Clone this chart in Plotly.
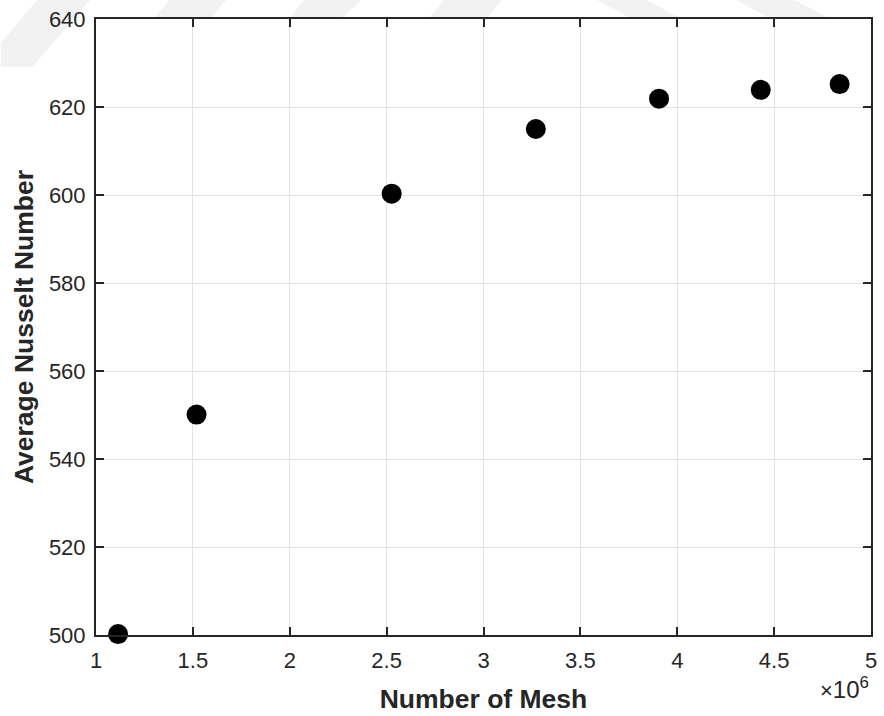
import plotly.graph_objects as go

# Mesh independence study: average Nusselt number vs. mesh size
mesh_counts = [1.114e6, 1.519e6, 2.526e6, 3.270e6, 3.906e6, 4.431e6, 4.838e6]
avg_nusselt = [500.2, 550.1, 600.3, 615.0, 621.9, 623.9, 625.2]

x_tick_values = [1.0e6, 1.5e6, 2.0e6, 2.5e6, 3.0e6, 3.5e6, 4.0e6, 4.5e6, 5.0e6]
x_tick_labels = ["1", "1.5", "2", "2.5", "3", "3.5", "4", "4.5", "5"]
y_tick_values = [500, 520, 540, 560, 580, 600, 620, 640]

W, H = 884, 716
M_L, M_R, M_T, M_B = 96, 7, 19, 79
PW, PH = W - M_L - M_R, H - M_T - M_B

INK = "#262626"
GRID = "#e3e3e3"
FONT = "Liberation Sans, Arial, Helvetica, sans-serif"


def to_paper(px, py):
    return (px - M_L) / PW, (H - M_B - py) / PH


# faint diagonal watermark bands in the page margins (pixel outlines)
bands = [
    [(37, 0), (90, 0), (32, 67), (0, 67), (0, 43)],
    [(170, 0), (227, 0), (211, 19), (154, 19)],
    [(306, 0), (363, 0), (343, 19), (290, 19)],
    [(447, 0), (505, 0), (489, 19), (431, 19)],
    [(601, 0), (651, 0), (686, 19), (636, 19)],
    [(741, 0), (801, 0), (836, 19), (776, 19)],
]

shapes = []
for poly in bands:
    pts = [to_paper(px, py) for px, py in poly]
    path = "M " + " L ".join(f"{x:.5f},{y:.5f}" for x, y in pts) + " Z"
    shapes.append(dict(type="path", xref="paper", yref="paper", path=path,
                       fillcolor="#f2f2f2", line=dict(width=0), layer="below"))

fig = go.Figure()
fig.add_trace(go.Scatter(
    x=mesh_counts, y=avg_nusselt, mode="markers",
    marker=dict(symbol="circle", size=20, color="black",
                line=dict(width=0)),
    cliponaxis=False, showlegend=False,
))

axis_common = dict(
    showline=True, linecolor=INK, linewidth=2, mirror="allticks",
    ticks="inside", ticklen=8, tickwidth=2, tickcolor=INK,
    showgrid=True, gridcolor=GRID, gridwidth=1, zeroline=False,
    tickfont=dict(family=FONT, size=22, color=INK),
)

fig.update_xaxes(
    range=[1.0e6, 5.0e6], tickvals=x_tick_values, ticktext=x_tick_labels,
    title=dict(text="<b>Number of Mesh</b>", standoff=17,
               font=dict(family=FONT, size=26.5, color=INK)),
    ticklabelstandoff=5,
    **axis_common,
)
fig.update_yaxes(
    range=[500, 640], tickvals=y_tick_values,
    title=dict(text="<b>Average Nusselt Number</b>", standoff=8,
               font=dict(family=FONT, size=26.5, color=INK)),
    ticklabelstandoff=4,
    **axis_common,
)

# MATLAB-style exponent note under the right end of the x axis
fig.add_annotation(
    text="<span style='font-size:22px'>\u00d7</span>10<sup>6</sup>",
    xref="paper", yref="paper",
    x=1.0, y=0.0, xanchor="right", yanchor="top", yshift=-36,
    showarrow=False, font=dict(family=FONT, size=24, color=INK),
)

fig.update_layout(
    width=W, height=H,
    margin=dict(l=M_L, r=M_R, t=M_T, b=M_B, pad=0),
    paper_bgcolor="white", plot_bgcolor="white",
    shapes=shapes,
)

fig.write_html("out.html")
